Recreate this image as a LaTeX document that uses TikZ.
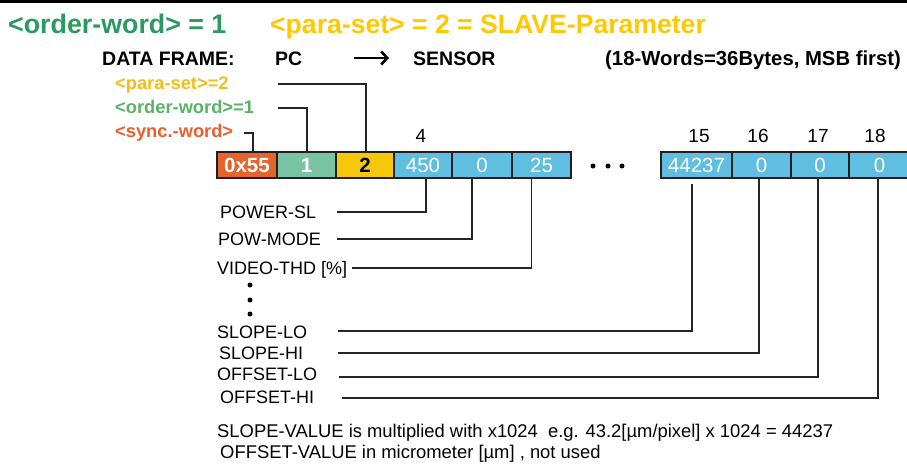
\documentclass[tikz,border=0pt]{standalone}
\usepackage{fontspec}
\setmainfont{Liberation Sans}
\usetikzlibrary{arrows.meta}
\definecolor{tgreen}{RGB}{44,154,96}
\definecolor{tyellow}{RGB}{255,200,0}
\definecolor{lyellow}{RGB}{245,190,20}
\definecolor{lgreen}{RGB}{90,180,100}
\definecolor{lorange}{RGB}{232,96,44}
\definecolor{borange}{RGB}{229,99,44}
\definecolor{bgreen}{RGB}{122,196,165}
\definecolor{byellow}{RGB}{245,200,10}
\definecolor{bblue}{RGB}{96,190,225}
\definecolor{frame}{RGB}{35,31,32}
\definecolor{linec}{RGB}{40,36,37}
\newcommand\myfs[1]{\fontsize{#1}{#1}\selectfont}
\begin{document}
\begin{tikzpicture}[x=1pt,y=-1pt,
  cell/.style={draw=frame, line width=2.8pt, minimum height=26pt, inner sep=0pt, font=\myfs{20.5}, text=white},
  lbl/.style={anchor=base west, inner sep=0pt, font=\myfs{18}},
  note/.style={anchor=base west, inner sep=0pt, font=\myfs{18.4}},
  small/.style={anchor=base west, inner sep=0pt, font=\myfs{18.3}\bfseries},
  num/.style={anchor=base, inner sep=0pt, font=\myfs{19}},
  conn/.style={draw=linec, line width=1.1pt},
  dotc/.style={fill=black}]
\clip (0,0) rectangle (907,467);
\fill[white] (0,0) rectangle (907,467);
\fill[black] (0,0) rectangle (907,3);
% titles
\node[anchor=base west, inner sep=0pt, text=tgreen, font=\myfs{26.8}\bfseries] (t1) at (8,33) {<order-word> = 1};
\node[anchor=base west, inner sep=0pt, text=tyellow, font=\myfs{26.6}\bfseries] (t2) at (270,33) {<para-set> = 2 = SLAVE-Parameter};
\node[anchor=base west, inner sep=0pt, font=\myfs{19.5}\bfseries] (df) at (102,65) {DATA FRAME:};
\node[anchor=base west, inner sep=0pt, font=\myfs{19.5}\bfseries] (pc) at (275,65) {PC};
\node[anchor=base west, inner sep=0pt, font=\myfs{19.5}\bfseries] (sn) at (413,65) {SENSOR};
\node[anchor=base west, inner sep=0pt, font=\myfs{20.3}\bfseries] (wd) at (605,65) {(18-Words=36Bytes, MSB first)};
\coordinate (a1) at (354,58);
\coordinate (a2) at (389,58);
\draw[line width=2.8pt, -{Straight Barb[length=6pt,width=13pt,line width=2.6pt]}] (a1) -- (a2);
% small labels
\node[small, text=lyellow] (lp) at (115,89) {<para-set>=2};
\node[small, text=lgreen] (lo) at (115,113) {<order-word>=1};
\node[small, text=lorange] (ls) at (115,137) {<sync.-word>};
% cells
\node[cell, fill=borange, minimum width=60pt, font=\myfs{20.5}\bfseries] (b1) at (247,165) {0x55};
\node[cell, fill=bgreen, minimum width=59pt, font=\myfs{20.5}\bfseries] (b2) at (306.5,165) {1};
\node[cell, fill=byellow, minimum width=58pt, font=\myfs{20.5}\bfseries, text=black] (b3) at (365,165) {2};
\node[cell, fill=bblue, minimum width=58pt] (b4) at (423,165) {450};
\node[cell, fill=bblue, minimum width=60pt] (b5) at (482,165) {0};
\node[cell, fill=bblue, minimum width=59pt] (b6) at (541.5,165) {25};
\node[cell, fill=bblue, minimum width=71pt] (b15) at (696.5,165) {44237};
\node[cell, fill=bblue, minimum width=59pt] (b16) at (761.5,165) {0};
\node[cell, fill=bblue, minimum width=58pt] (b17) at (820,165) {0};
\node[cell, fill=bblue, minimum width=61pt] (b18) at (879.5,165) {0};
% index numbers
\node[num] (n4) at (421,142) {4};
\node[num] (n15) at (699,142) {15};
\node[num] (n16) at (758,142) {16};
\node[num] (n17) at (818,142) {17};
\node[num] (n18) at (875,142) {18};
% dots
\fill[dotc] (593,166) circle (2.5pt);
\fill[dotc] (608,166) circle (2.5pt);
\fill[dotc] (622,166) circle (2.5pt);
\fill[dotc] (250,285) circle (2.5pt);
\fill[dotc] (250,300) circle (2.5pt);
\fill[dotc] (250,314) circle (2.5pt);
% top connectors
\coordinate (cp) at (278,84);
\coordinate (co) at (278,108);
\coordinate (cs) at (244,133);
\draw[conn] (cp) -| ([xshift=1pt]b3.north);
\draw[conn] (co) -| ([xshift=0.5pt]b2.north);
\draw[conn] (cs) -| ([xshift=6pt]b1.north);
% field labels
\node[lbl] (fpw) at (220,218) {POWER-SL};
\node[lbl] (fpm) at (218,245) {POW-MODE};
\node[lbl] (fvt) at (217,274) {VIDEO-THD [\%]};
\node[lbl] (fsl) at (217,338) {SLOPE-LO};
\node[lbl] (fsh) at (219,359) {SLOPE-HI};
\node[lbl] (fol) at (217,380) {OFFSET-LO};
\node[lbl] (foh) at (220,403) {OFFSET-HI};
\coordinate (spw) at (337,212);
\coordinate (spm) at (337,239);
\coordinate (svt) at (352,268);
\coordinate (ssl) at (338,331);
\coordinate (ssh) at (338,353);
\coordinate (sol) at (339,377);
\coordinate (soh) at (342,398);
\draw[conn] (spw) -| ([xshift=3pt]b4.south);
\draw[conn] (spm) -| ([xshift=-10pt]b5.south);
\draw[conn] (svt) -| ([xshift=-10pt]b6.south);
\draw[conn] (ssl) -| ([xshift=-4.5pt,yshift=-5pt]b15.south);
\draw[conn] (ssh) -| ([xshift=-2.5pt]b16.south);
\draw[conn] (sol) -| ([xshift=-2pt]b17.south);
\draw[conn] (soh) -| ([xshift=-1.5pt]b18.south);
% notes
\node[note] (nt1) at (217,437) {SLOPE-VALUE is multiplied with x1024\ \ e.g. 43.2[µm/pixel] x 1024 = 44237};
\node[note] (nt2) at (220,458) {OFFSET-VALUE in micrometer [µm] , not used};
\end{tikzpicture}
\end{document}
